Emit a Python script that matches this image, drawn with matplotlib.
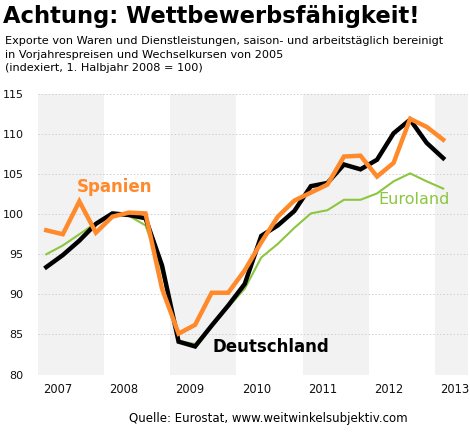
import matplotlib

matplotlib.use("Agg")
import matplotlib.pyplot as plt
import numpy as np

# quarterly index values, 2007 Q1 .. 2013 Q1 (1. Halbjahr 2008 = 100)
deutschland = [93.4, 94.9, 96.7, 98.8, 100.1, 99.9, 99.5, 93.6,
               84.1, 83.5, 86.1, 88.6, 91.3, 97.3, 98.6, 100.4,
               103.5, 103.9, 106.2, 105.6, 106.8, 110.1, 111.8, 108.9, 107.0]
spanien = [98.0, 97.5, 101.6, 97.7, 99.7, 100.2, 100.1, 90.7,
           85.1, 86.2, 90.2, 90.2, 93.0, 96.5, 99.7, 101.7,
           102.7, 103.7, 107.2, 107.3, 104.7, 106.4, 111.9, 110.9, 109.3]
euroland = [95.0, 96.1, 97.5, 98.9, 100.0, 99.8, 98.6, 92.8,
            84.2, 83.8, 86.1, 88.4, 90.7, 94.6, 96.3, 98.3,
            100.1, 100.5, 101.8, 101.8, 102.6, 104.1, 105.1, 104.1, 103.2]
years = [2007, 2008, 2009, 2010, 2011, 2012, 2013]
y_ticks = [80, 85, 90, 95, 100, 105, 110, 115]

ORANGE = "#ff8a2b"
GREEN = "#8cc63f"
BAND = "#f2f2f2"

quarters = 2007 + (np.arange(len(deutschland)) + 0.5) / 4

fig = plt.figure(figsize=(4.7, 4.4), dpi=100)
ax = fig.add_axes([38 / 470, 1 - 374.5 / 440, 430 / 470, 280.5 / 440])

# alternating year bands
for y in years[::2]:
    ax.axvspan(y, y + 1, color=BAND, lw=0, zorder=0)

for v in y_ticks:
    ax.axhline(v, color="#cfcfcf", lw=0.7, ls=(0, (1.5, 2)), zorder=1)

ax.plot(quarters, euroland, color=GREEN, lw=1.5, zorder=3)
ax.plot(quarters, deutschland, color="black", lw=3.2, zorder=4,
        solid_joinstyle="miter")
ax.plot(quarters, spanien, color=ORANGE, lw=3.2, zorder=5,
        solid_joinstyle="miter")

ax.set_xlim(2007, 2013.5)
ax.set_ylim(80, 115)
ax.set_yticks(y_ticks)
ax.set_xticks([y + 0.3 for y in years])
ax.set_xticklabels([str(y) for y in years])
ax.tick_params(length=0, labelsize=8.3, colors="#111111")
ax.tick_params(axis="y", labelsize=8, pad=10.5)
ax.tick_params(axis="x", pad=6)
for s in ax.spines.values():
    s.set_visible(False)

ax.text(2007.58, 103.4, "Spanien", color=ORANGE, fontsize=12,
        fontweight="bold", va="center", ha="left")
ax.text(2009.64, 83.4, "Deutschland", color="black", fontsize=12,
        fontweight="bold", va="center", ha="left")
ax.text(2012.15, 101.8, "Euroland", color=GREEN, fontsize=11.5,
        va="center", ha="left")

fig.text(3 / 470, 1 - 16 / 440, "Achtung: Wettbewerbsfähigkeit!",
         fontsize=16.3, fontweight="bold", va="center", ha="left")
subtitle = ("Exporte von Waren und Dienstleistungen, saison- und arbeitstäglich bereinigt\n"
            "in Vorjahrespreisen und Wechselkursen von 2005\n"
            "(indexiert, 1. Halbjahr 2008 = 100)")
fig.text(5 / 470, 1 - 36 / 440, subtitle, fontsize=8.1, va="top", ha="left",
         linespacing=1.45)
fig.text(268 / 470, 1 - 418 / 440, "Quelle: Eurostat, www.weitwinkelsubjektiv.com",
         fontsize=8.5, va="center", ha="center")

fig.savefig("out.png", dpi=100)
